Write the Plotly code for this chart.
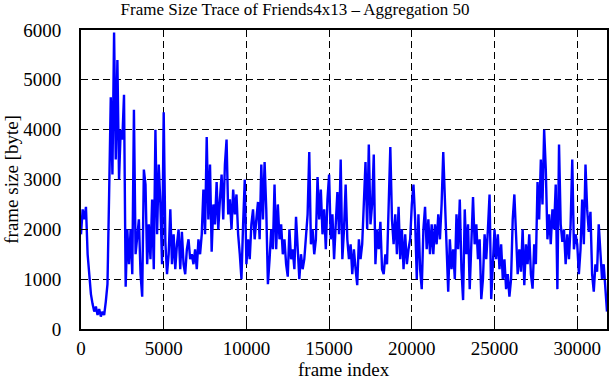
import numpy as np
import plotly.graph_objects as go

frame_step = 100  # aggregated frame index spacing used for the drawn samples

seg_a = [1900, 2400, 2200, 2450, 1500, 1000, 700, 500, 350, 450,
         280, 400, 250, 350, 280, 550, 900, 2700, 4650, 3100,
         5950, 3400, 5400, 3000, 4000, 3800, 4700, 850, 2000, 1300,
         2000, 1100, 4400, 1500, 1900, 2200, 1100, 650, 3200, 2900,
         1300, 2100, 1400, 2600, 1200, 4000, 1900, 3300, 2500, 1300,
         4350, 1750, 1100, 1500]
seg_b = [2400, 1300, 1900, 1200, 1700, 2000, 1200, 1950, 1300, 1100,
         1600, 1800, 1400, 1500, 1300, 1600, 1200, 1800, 1500, 1900,
         2800, 1900, 3850, 2200, 3300, 1550, 2500, 2100, 2950, 2000,
         2600, 3100, 2200, 3300, 3800, 2300, 2600, 2000, 2800, 2300,
         2700, 1900, 1500, 1000, 2100, 3000, 1300, 1800, 1400, 2100,
         2400, 1800, 2200]
seg_c = [2550, 1800, 3300, 2200, 3350, 2400, 900, 1400, 2000, 1600,
         2900, 1600, 2500, 1800, 2100, 1500, 1800, 1300, 1050, 2000,
         1400, 1600, 1200, 2250, 1700, 1000, 1500, 1200, 1400, 1900,
         2300, 3550, 1700, 2000, 1500, 1800, 3050, 2200, 2800, 1900,
         2400, 1600, 2600, 3100, 1800, 2300, 1400, 2100, 2750, 1900,
         3400, 1400, 2000]
seg_d = [2900, 1800, 1400, 1700, 1100, 1600, 1200, 880, 1800, 1400,
         1700, 2500, 3350, 2000, 3700, 2100, 2500, 3500, 1300, 2000,
         1600, 2150, 1200, 1100, 1500, 1300, 2400, 3650, 2200, 1700,
         2300, 1500, 2450, 1400, 2000, 1200, 1900, 1300, 1600, 1800,
         2500, 2900, 2200, 1000, 2300, 1200, 800, 2000, 2450, 1600,
         2200, 1500, 2100]
seg_e = [1500, 2100, 1700, 2300, 1800, 2500, 3550, 2600, 1600, 750,
         1800, 1200, 1600, 1000, 2300, 1600, 2600, 1200, 580, 2400,
         1500, 2100, 800, 1700, 2650, 1700, 2100, 1400, 1800, 600,
         1000, 1900, 1400, 2000, 2700, 600, 1500, 2000, 1400, 1900,
         1200, 1700, 1000, 1400, 800, 1100, 650, 1000, 2200, 2700,
         1900, 1100, 1600]
seg_f = [1150, 2000, 880, 1700, 1300, 1900, 1100, 810, 1700, 1300,
         2950, 2200, 3400, 2500, 4000, 3200, 1800, 2300, 1700, 2400,
         2000, 2900, 800, 3700, 2100, 1750, 2000, 1300, 1900, 1400,
         2100, 3400, 1600, 1900, 1700, 1100, 1600, 2600, 1700, 3300,
         2400, 1950, 2350, 1100, 750, 1300, 1150, 2100, 1500, 1000,
         1300, 800, 350]

frame_size = seg_a + seg_b + seg_c + seg_d + seg_e + seg_f
frame_index = np.arange(len(frame_size)) * frame_step

x_ticks = [0, 5000, 10000, 15000, 20000, 25000, 30000]
x_tick_labels = ["0", "5000", "10000", "15000", "20000", "25000", "30000"]
y_ticks = [0, 1000, 2000, 3000, 4000, 5000, 6000]
y_tick_labels = ["0", "1000", "2000", "3000", "4000", "5000", "6000"]

title_text = "Frame Size Trace of Friends4x13 \u2013 Aggregation 50"
x_label = "frame index"
y_label = "frame size [byte]"

FONT = "Liberation Serif"

fig = go.Figure(go.Scatter(x=frame_index, y=frame_size, mode="lines",
                           line=dict(color="#0000ff", width=2.4),
                           showlegend=False))

axis_common = dict(
    showgrid=True, gridcolor="black", gridwidth=1, griddash="7px,4px",
    showline=True, linecolor="black", linewidth=2, mirror="ticks",
    ticks="inside", ticklen=7, tickwidth=1, tickcolor="black",
    zeroline=False, tickfont=dict(family=FONT, size=19, color="black"),
)

fig.update_layout(
    width=611, height=380,
    margin=dict(l=81, r=2, t=30, b=51),
    paper_bgcolor="white", plot_bgcolor="white",
    title=dict(text=title_text, x=295/611, xref="container", xanchor="center",
               y=1 - 9/380, yref="container", yanchor="middle",
               font=dict(family=FONT, size=17, color="black")),
    xaxis=dict(range=[0, 31800], tickmode="array", tickvals=x_ticks,
               ticktext=x_tick_labels, ticklabelstandoff=1, **axis_common),
    yaxis=dict(range=[0, 6000], tickmode="array", tickvals=y_ticks,
               ticktext=y_tick_labels, ticklabelstandoff=14, **axis_common),
    annotations=[
        dict(text=x_label, xref="paper", yref="paper", x=0.5, y=(329-369)/299,
             xanchor="center", yanchor="middle", showarrow=False,
             font=dict(family=FONT, size=19, color="black")),
        dict(text=y_label, xref="paper", yref="paper", x=(11-81)/528, y=0.5,
             xanchor="center", yanchor="middle", showarrow=False, textangle=-90,
             font=dict(family=FONT, size=19, color="black")),
    ],
)

fig.write_html("out.html")
